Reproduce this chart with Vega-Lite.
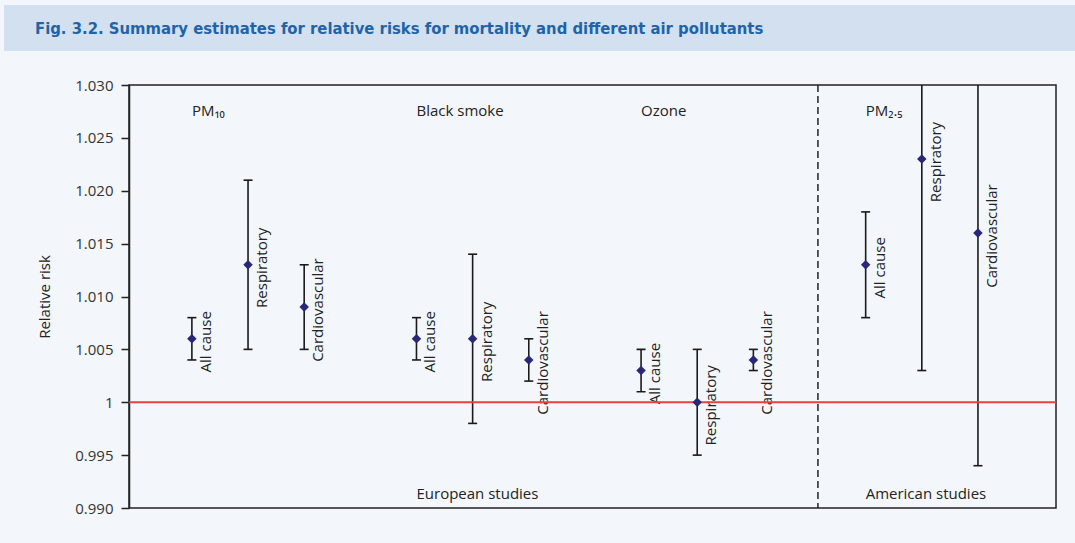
{
  "$schema": "https://vega.github.io/schema/vega-lite/v6.json",
  "background": "#f3f7fb",
  "padding": {"left": 4, "top": 5, "right": 0, "bottom": 32},
  "config": {"font": "Open Sans", "view": {"stroke": null}},
  "datasets": {
    "estimates": [
      {"group": "PM10", "outcome": "All cause", "slot": 1, "estimate": 1.006, "lower": 1.004, "upper": 1.008},
      {"group": "PM10", "outcome": "Respiratory", "slot": 2, "estimate": 1.013, "lower": 1.005, "upper": 1.021},
      {"group": "PM10", "outcome": "Cardiovascular", "slot": 3, "estimate": 1.009, "lower": 1.005, "upper": 1.013},
      {"group": "Black smoke", "outcome": "All cause", "slot": 5, "estimate": 1.006, "lower": 1.004, "upper": 1.008},
      {"group": "Black smoke", "outcome": "Respiratory", "slot": 6, "estimate": 1.006, "lower": 0.998, "upper": 1.014},
      {"group": "Black smoke", "outcome": "Cardiovascular", "slot": 7, "estimate": 1.004, "lower": 1.002, "upper": 1.006},
      {"group": "Ozone", "outcome": "All cause", "slot": 9, "estimate": 1.003, "lower": 1.001, "upper": 1.005},
      {"group": "Ozone", "outcome": "Respiratory", "slot": 10, "estimate": 1.0, "lower": 0.995, "upper": 1.005},
      {"group": "Ozone", "outcome": "Cardiovascular", "slot": 11, "estimate": 1.004, "lower": 1.003, "upper": 1.005},
      {"group": "PM2.5", "outcome": "All cause", "slot": 13, "estimate": 1.013, "lower": 1.008, "upper": 1.018},
      {"group": "PM2.5", "outcome": "Respiratory", "slot": 14, "estimate": 1.023, "lower": 1.003, "upper": 1.03},
      {"group": "PM2.5", "outcome": "Cardiovascular", "slot": 15, "estimate": 1.016, "lower": 0.994, "upper": 1.03}
    ],
    "groups": [
      {"label": "PM₁₀", "slot": 1},
      {"label": "Black smoke", "slot": 5},
      {"label": "Ozone", "slot": 9},
      {"label": "PM₂.₅", "slot": 13}
    ],
    "regions": [
      {"label": "European studies", "slot": 5},
      {"label": "American studies", "slot": 13}
    ],
    "divider": [{"slot": 12.15}]
  },
  "columns": 1,
  "align": "none",
  "spacing": 26,
  "concat": [
    {
      "width": 1071,
      "height": 46,
      "view": {"fill": "#d3e0f0", "stroke": null},
      "title": {
        "text": "Fig. 3.2. Summary estimates for relative risks for mortality and different air pollutants",
        "anchor": "start",
        "frame": "group",
        "orient": "top",
        "offset": -40,
        "baseline": "middle",
        "dx": 31,
        "font": "DejaVu Sans Condensed",
        "fontSize": 16.5,
        "fontWeight": "bold",
        "color": "#1f64a8"
      },
      "data": {"values": []},
      "mark": "rect"
    },
    {
      "spacing": 32,
      "hconcat": [
        {
          "width": 1,
          "height": 1,
          "view": {"stroke": null},
          "data": {"values": []},
          "mark": "point"
        },
        {
          "width": 927,
          "height": 423,
          "view": {"stroke": "#222222", "strokeWidth": 1.5},
          "encoding": {
            "x": {"field": "slot", "type": "quantitative", "scale": {"domain": [-0.12, 16.39], "nice": false, "zero": false}, "axis": null}
          },
          "layer": [
            {
              "data": {"name": "estimates"},
              "mark": {"type": "text", "angle": 270, "align": "center", "baseline": "middle", "dy": 14, "dx": -3, "fontSize": 15, "color": "#222222"},
              "encoding": {
                "y": {"field": "estimate", "type": "quantitative", "title": "Relative risk",
                  "scale": {"domain": [0.99, 1.03], "nice": false, "zero": false},
                  "axis": {
                    "values": [0.99, 0.995, 1, 1.005, 1.01, 1.015, 1.02, 1.025, 1.03],
                    "labelExpr": "datum.value == 1 ? '1' : format(datum.value, '.3f')",
                    "grid": false, "tickSize": 8, "tickWidth": 1.5, "tickColor": "#222222",
                    "domainColor": "#222222", "domainWidth": 1.5,
                    "labelFontSize": 15, "labelColor": "#333333", "labelPadding": 8,
                    "titleFontSize": 15, "titleFontWeight": "normal", "titleColor": "#222222", "titlePadding": 22
                  }},
                "text": {"field": "outcome"}
              }
            },
            {
              "data": {"name": "estimates"},
              "mark": {"type": "rule", "strokeWidth": 1.6, "color": "#1a1a1a"},
              "encoding": {
                "y": {"field": "lower", "type": "quantitative", "title": "Relative risk"},
                "y2": {"field": "upper"}
              }
            },
            {
              "data": {"name": "estimates"},
              "mark": {"type": "tick", "orient": "horizontal", "size": 9, "thickness": 1.6, "color": "#1a1a1a", "opacity": 1},
              "encoding": {
                "y": {"field": "lower", "type": "quantitative", "title": "Relative risk"}
              }
            },
            {
              "data": {"name": "estimates"},
              "transform": [{"filter": "datum.upper < 1.03"}],
              "mark": {"type": "tick", "orient": "horizontal", "size": 9, "thickness": 1.6, "color": "#1a1a1a", "opacity": 1},
              "encoding": {
                "y": {"field": "upper", "type": "quantitative", "title": "Relative risk"}
              }
            },
            {
              "data": {"values": [{}]},
              "mark": {"type": "rule", "color": "#e9413e", "strokeWidth": 2},
              "encoding": {"x": null, "y": {"datum": 1, "type": "quantitative"}}
            },
            {
              "data": {"name": "estimates"},
              "mark": {"type": "point", "shape": "diamond", "filled": true, "size": 90, "color": "#2a2678", "opacity": 1},
              "encoding": {
                "y": {"field": "estimate", "type": "quantitative", "title": "Relative risk"}
              }
            },
            {
              "data": {"name": "divider"},
              "mark": {"type": "rule", "color": "#222222", "strokeWidth": 1.5, "strokeDash": [7, 4]},
              "encoding": {}
            },
            {
              "data": {"name": "groups"},
              "mark": {"type": "text", "align": "left", "baseline": "middle", "fontSize": 15, "color": "#222222"},
              "encoding": {
                "y": {"datum": 1.0275, "type": "quantitative"},
                "text": {"field": "label"}
              }
            },
            {
              "data": {"name": "regions"},
              "mark": {"type": "text", "align": "left", "baseline": "middle", "fontSize": 15, "color": "#222222"},
              "encoding": {
                "y": {"datum": 0.9913, "type": "quantitative"},
                "text": {"field": "label"}
              }
            }
          ]
        }
      ]
    }
  ]
}
